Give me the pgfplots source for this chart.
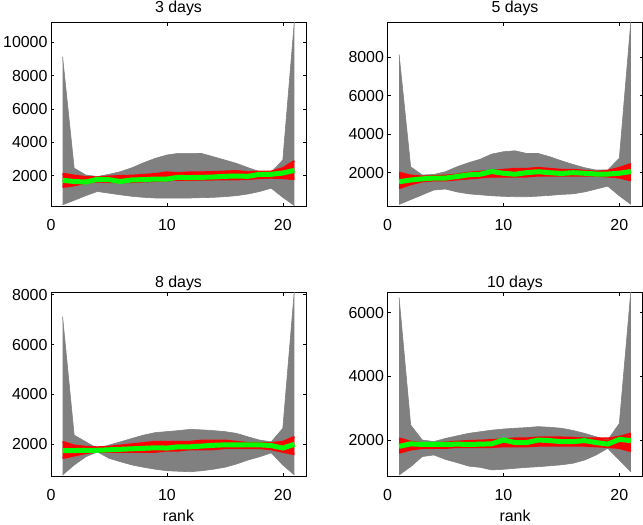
\documentclass[border=0pt]{standalone}
\usepackage{pgfplots}
\pgfplotsset{compat=1.18}
\usepackage{pgfplotstable}
\usepgfplotslibrary{fillbetween}
\usepackage{fontspec}
\setmainfont{Liberation Sans}
\definecolor{mgray}{RGB}{128,128,128}
\definecolor{mred}{RGB}{255,0,0}
\definecolor{mgreen}{RGB}{0,255,0}

\pgfplotstableread{
r up lo rl ru g
1 9136 250 1320 2120 1720
2 2450 520 1420 2000 1650
3 2040 800 1580 1920 1620
4 1950 1050 1650 1900 1780
5 2080 950 1620 1950 1760
6 2240 850 1600 1980 1650
7 2480 760 1620 2000 1750
8 2780 700 1650 2050 1760
9 3040 660 1680 2100 1800
10 3240 650 1720 2200 1800
11 3340 650 1740 2150 1900
12 3340 660 1750 2200 1880
13 3330 680 1760 2200 1900
14 3140 700 1770 2220 1920
15 2940 740 1780 2250 1960
16 2740 800 1780 2280 1980
17 2480 900 1800 2200 1960
18 2240 1050 1850 2250 2080
19 2200 1250 1880 2250 2080
20 2940 700 1850 2450 2160
21 11300 200 1800 2880 2320
}\dataA

\pgfplotstableread{
r up lo rl ru g
1 8150 350 1200 2000 1530
2 2300 600 1400 1850 1620
3 1880 850 1550 1800 1680
4 1910 1100 1600 1820 1720
5 2050 1150 1600 1850 1720
6 2310 1000 1650 1900 1800
7 2520 900 1700 2000 1890
8 2700 850 1750 2050 1920
9 2970 800 1800 2100 2060
10 3090 770 1800 2150 1970
11 3140 750 1800 2200 1920
12 3000 750 1800 2200 2000
13 3000 780 1850 2250 2050
14 2830 820 1850 2200 2000
15 2620 870 1850 2150 1960
16 2430 900 1850 2150 2000
17 2260 1000 1850 2100 1970
18 2140 1150 1850 2050 1930
19 2140 1300 1800 2100 1930
20 2750 800 1750 2250 1970
21 9900 350 1600 2450 2060
}\dataB

\pgfplotstableread{
r up lo rl ru g
1 7120 770 1450 2100 1750
2 2370 1170 1550 1950 1750
3 2100 1500 1650 1900 1760
4 1840 1700 1700 1880 1760
5 1970 1440 1700 1900 1780
6 2100 1300 1700 1950 1800
7 2240 1170 1700 2000 1820
8 2370 1080 1700 2050 1840
9 2470 1000 1700 2100 1860
10 2510 940 1750 2100 1850
11 2550 920 1750 2100 1900
12 2600 900 1800 2100 1900
13 2580 940 1800 2150 1930
14 2550 1000 1800 2150 1960
15 2510 1080 1850 2150 1980
16 2440 1210 1850 2100 1980
17 2300 1370 1850 2050 1980
18 2170 1500 1850 2050 1980
19 2100 1660 1800 2050 1950
20 2640 1170 1700 2100 1850
21 8200 770 1600 2300 2000
}\dataC

\pgfplotstableread{
r up lo rl ru g
1 6480 900 1600 2050 1800
2 2470 1160 1700 1950 1880
3 2000 1480 1750 1900 1860
4 1950 1530 1750 1900 1860
5 2050 1390 1750 1920 1860
6 2130 1290 1780 1950 1870
7 2210 1180 1780 1970 1860
8 2260 1140 1780 1980 1870
9 2310 1060 1780 2000 1880
10 2345 1080 1800 2020 2000
11 2370 1110 1800 2050 1920
12 2390 1140 1800 2050 1920
13 2420 1160 1820 2080 2000
14 2400 1190 1820 2080 1980
15 2370 1220 1820 2080 1950
16 2300 1270 1820 2070 1950
17 2210 1370 1820 2050 1980
18 2100 1530 1800 2050 1920
19 2000 1740 1780 2050 1870
20 2520 1370 1750 2100 2020
21 6700 1000 1650 2200 1980
}\dataD

\pgfplotsset{
  panel/.style={
    scale only axis, width=255bp, height=183.3bp,
    anchor=south west,
    xmin=0, xmax=22, xtick={0,10,20},
    tick align=inside, major tick length=3bp,
    axis line style={line width=0.6bp},
    every tick/.style={black, line width=0.6bp},
    font=\fontsize{16}{19}\selectfont,
    /pgf/number format/assume math mode=true,
    /pgf/number format/1000 sep={},
    scaled ticks=false,
    xticklabel style={yshift=-10bp},
    xlabel style={at={(axis description cs:0.5,0)}, anchor=base, yshift=-45bp},
  },
  toptitle/.style={title style={at={(0.5,1)}, anchor=base, yshift=4bp}},
  bottitle/.style={title style={at={(0.5,1)}, anchor=base, yshift=-0.6bp}},
}

\newcommand{\drawpanel}[1]{%
  \addplot[name path=u, mgray, line width=0.6bp] table[x=r,y=up]{#1};
  \addplot[name path=l, mgray, line width=0.6bp] table[x=r,y=lo]{#1};
  \addplot[fill=mgray, draw=none] fill between[of=u and l];
  \addplot[name path=rl, mred, line width=2bp] table[x=r,y=rl]{#1};
  \addplot[name path=ru, mred, line width=2bp] table[x=r,y=ru]{#1};
  \addplot[fill=mred, draw=none] fill between[of=rl and ru];
  \addplot[mgreen, line width=5bp] table[x=r,y=g]{#1};
}

\begin{document}
\begin{tikzpicture}

\begin{axis}[panel, toptitle, at={(51bp,-206bp)}, ymin=180, ymax=11180,
  ytick={2000,4000,6000,8000,10000}, title={3 days}]
\drawpanel{\dataA}
\end{axis}

\begin{axis}[panel, toptitle, at={(387.5bp,-206bp)}, ymin=268, ymax=9800,
  ytick={2000,4000,6000,8000}, title={5 days}]
\drawpanel{\dataB}
\end{axis}

\begin{axis}[panel, bottitle, at={(51bp,-476bp)}, ymin=729, ymax=8081,
  ytick={2000,4000,6000,8000}, title={8 days}, xlabel={rank}]
\drawpanel{\dataC}
\end{axis}

\begin{axis}[panel, bottitle, at={(387.5bp,-476bp)}, ymin=869, ymax=6628,
  ytick={2000,4000,6000}, title={10 days}, xlabel={rank}]
\drawpanel{\dataD}
\end{axis}

\pgfresetboundingbox
\path[use as bounding box] (0,0) rectangle (643bp,-525bp);
\end{tikzpicture}
\end{document}
